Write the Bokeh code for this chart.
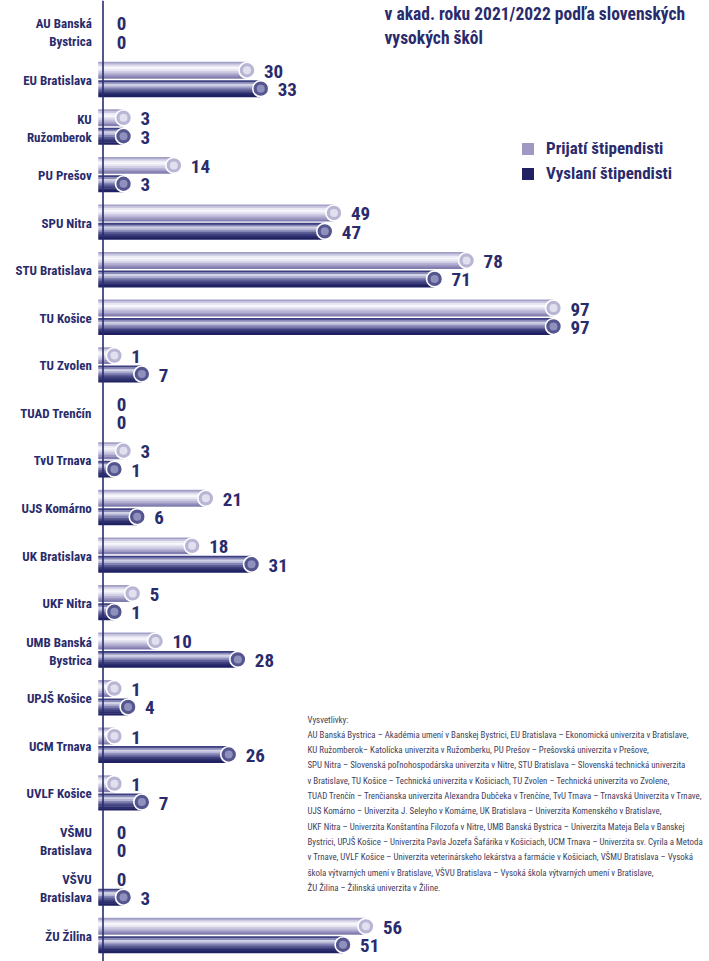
from bokeh.plotting import figure
from bokeh.models import ColumnDataSource, Range1d, Span, Label, Legend, LegendItem
from bokeh.core.properties import value
from bokeh.embed import file_html
from bokeh.resources import INLINE

# ---------------- data ----------------
schools = ["AU Banská\nBystrica", "EU Bratislava", "KU\nRužomberok", "PU Prešov",
           "SPU Nitra", "STU Bratislava", "TU Košice", "TU Zvolen", "TUAD Trenčín",
           "TvU Trnava", "UJS Komárno", "UK Bratislava", "UKF Nitra",
           "UMB Banská\nBystrica", "UPJŠ Košice", "UCM Trnava", "UVLF Košice",
           "VŠMU\nBratislava", "VŠVU\nBratislava", "ŽU Žilina"]
prijati = [0, 30, 3, 14, 49, 78, 97, 1, 0, 3, 21, 18, 5, 10, 1, 1, 1, 0, 0, 56]
vyslani = [0, 33, 3, 3, 47, 71, 97, 7, 0, 1, 6, 31, 1, 28, 4, 26, 7, 0, 3, 51]
series_names = ["Prijatí štipendisti", "Vyslaní štipendisti"]

title_lines = ["v akad. roku 2021/2022 podľa slovenských", "vysokých škôl"]
note_lines = [
    "Vysvetlivky:",
    "AU Banská Bystrica – Akadémia umení v Banskej Bystrici, EU Bratislava – Ekonomická univerzita v Bratislave,",
    "KU Ružomberok– Katolícka univerzita v Ružomberku, PU Prešov – Prešovská univerzita v Prešove,",
    "SPU Nitra – Slovenská poľnohospodárska univerzita v Nitre, STU Bratislava – Slovenská technická univerzita",
    "v Bratislave, TU Košice – Technická univerzita v Košiciach, TU Zvolen – Technická univerzita vo Zvolene,",
    "TUAD Trenčín – Trenčianska univerzita Alexandra Dubčeka v Trenčíne, TvU Trnava – Trnavská Univerzita v Trnave,",
    "UJS Komárno – Univerzita J. Seleyho v Komárne, UK Bratislava – Univerzita Komenského v Bratislave,",
    "UKF Nitra – Univerzita Konštantína Filozofa v Nitre, UMB Banská Bystrica – Univerzita Mateja Bela v Banskej",
    "Bystrici, UPJŠ Košice – Univerzita Pavla Jozefa Šafárika v Košiciach, UCM Trnava – Univerzita sv. Cyrila a Metoda",
    "v Trnave, UVLF Košice – Univerzita veterinárskeho lekárstva a farmácie v Košiciach, VŠMU Bratislava – Vysoká",
    "škola výtvarných umení v Bratislave, VŠVU Bratislava – Vysoká škola výtvarných umení v Bratislave,",
    "ŽU Žilina – Žilinská univerzita v Žiline.",
]

# ---------------- style ----------------
FONT = "Roboto Condensed, DejaVu Sans Condensed, Roboto"
NAVY = "#2a2b6c"
W, H = 709, 961
PX_X = 4.574           # pixels per unit on x
PX_Y = 47.56           # pixels per row
X0 = 109.3             # px of value 0
Y0 = 31.4              # px of first row center
BAR_H = 16.5 / PX_Y
OFF = 9.2 / PX_Y
BAR_START = -11.5 / PX_X
AXIS_X = -6.8 / PX_X

light_stops = ["#a3a0c7", "#cbc9e1", "#ebeaf4", "#f7f7fb", "#e6e5f1", "#d0cee4",
               "#b7b4d4", "#9d99c3", "#827eb0"]
dark_stops = ["#3d3f82", "#8a8bb9", "#d3d3e8", "#b5b6d5", "#8384b3", "#5d5e95",
              "#3f417e", "#2b2d6d", "#1f2163"]
cap_light = ("#b9b6d5", "#e8e7f2")
cap_dark = ("#55568f", "#9a9bc4")
legend_strip = [7, 8]

x_start = -X0 / PX_X
x_end = (W - X0) / PX_X
y_top = -Y0 / PX_Y
y_bot = (H - Y0) / PX_Y

p = figure(width=W, height=H, x_range=Range1d(x_start, x_end),
           y_range=Range1d(y_bot, y_top), output_backend="svg",
           toolbar_location=None, min_border=0, x_axis_type=None, y_axis_type=None)
p.grid.visible = False
p.outline_line_color = None
p.background_fill_color = "white"

rows = list(range(len(schools)))

legend_items = []
for s, (vals, stops, cap, sign) in enumerate([(prijati, light_stops, cap_light, -1),
                                               (vyslani, dark_stops, cap_dark, 1)]):
    ys = [r + sign * OFF for r in rows]
    nz = [i for i, v in enumerate(vals) if v > 0]
    n = len(stops)
    sh = BAR_H / n
    strip_renderers = []
    for k, col in enumerate(stops):
        src = ColumnDataSource(dict(
            y=[ys[i] - BAR_H / 2 + (k + 0.5) * sh for i in nz],
            right=[vals[i] for i in nz],
        ))
        r = p.hbar(y="y", left=BAR_START, right="right", height=sh * 1.25,
                   source=src, fill_color=col, line_color=None)
        strip_renderers.append(r)
    csrc = ColumnDataSource(dict(x=[vals[i] for i in nz], y=[ys[i] for i in nz]))
    p.scatter(x="x", y="y", source=csrc, size=16, fill_color=cap[0],
              line_color="white", line_width=1.6)
    p.scatter(x="x", y="y", source=csrc, size=8, fill_color=cap[1],
              line_color=None, fill_alpha=0.85)
    # value labels
    tsrc = ColumnDataSource(dict(
        x=vals, y=ys, t=[str(v) for v in vals],
        xo=[17 if v > 0 else 7 for v in vals],
    ))
    p.text(x="x", y="y", text="t", x_offset="xo", y_offset=1, source=tsrc,
           text_font=value(FONT), text_font_style="bold", text_font_size="19px",
           text_color=NAVY, text_align="left", text_baseline="middle")
    legend_items.append(LegendItem(label=series_names[s],
                                   renderers=[strip_renderers[legend_strip[s]]]))

# axis line
p.add_layout(Span(location=AXIS_X, dimension="height", line_color=NAVY, line_width=1.6))

# category labels
lsrc = ColumnDataSource(dict(x=[0] * len(schools), y=rows, t=schools))
p.text(x="x", y="y", text="t", source=lsrc, x_offset=-18, y_offset=1,
       text_font=value(FONT), text_font_style="bold", text_font_size="13px",
       text_color=NAVY, text_align="right", text_baseline="middle",
       text_line_height=1.2)

# title
for i, line in enumerate(title_lines):
    p.add_layout(Label(x=384, y=H - (13 + 24 * i), x_units="screen", y_units="screen",
                       text=line, text_font=FONT, text_font_style="bold",
                       text_font_size="17.5px", text_color=NAVY,
                       text_baseline="middle", text_align="left"))

# footnote
for i, line in enumerate(note_lines):
    p.add_layout(Label(x=307, y=H - (719 + 15.3 * i), x_units="screen", y_units="screen",
                       text=line, text_font=FONT, text_font_size="8.9px",
                       text_color="#3f3f5f", text_baseline="middle", text_align="left"))

legend = Legend(items=legend_items, location=(520, H - 183), orientation="vertical",
                glyph_width=15, glyph_height=15, label_standoff=11, spacing=5,
                padding=0, margin=0, border_line_color=None,
                background_fill_alpha=0, label_text_font=FONT,
                label_text_font_style="bold", label_text_font_size="17px",
                label_text_color=NAVY, label_height=15)
p.add_layout(legend)

open("out.html", "w").write(file_html(p, INLINE))
